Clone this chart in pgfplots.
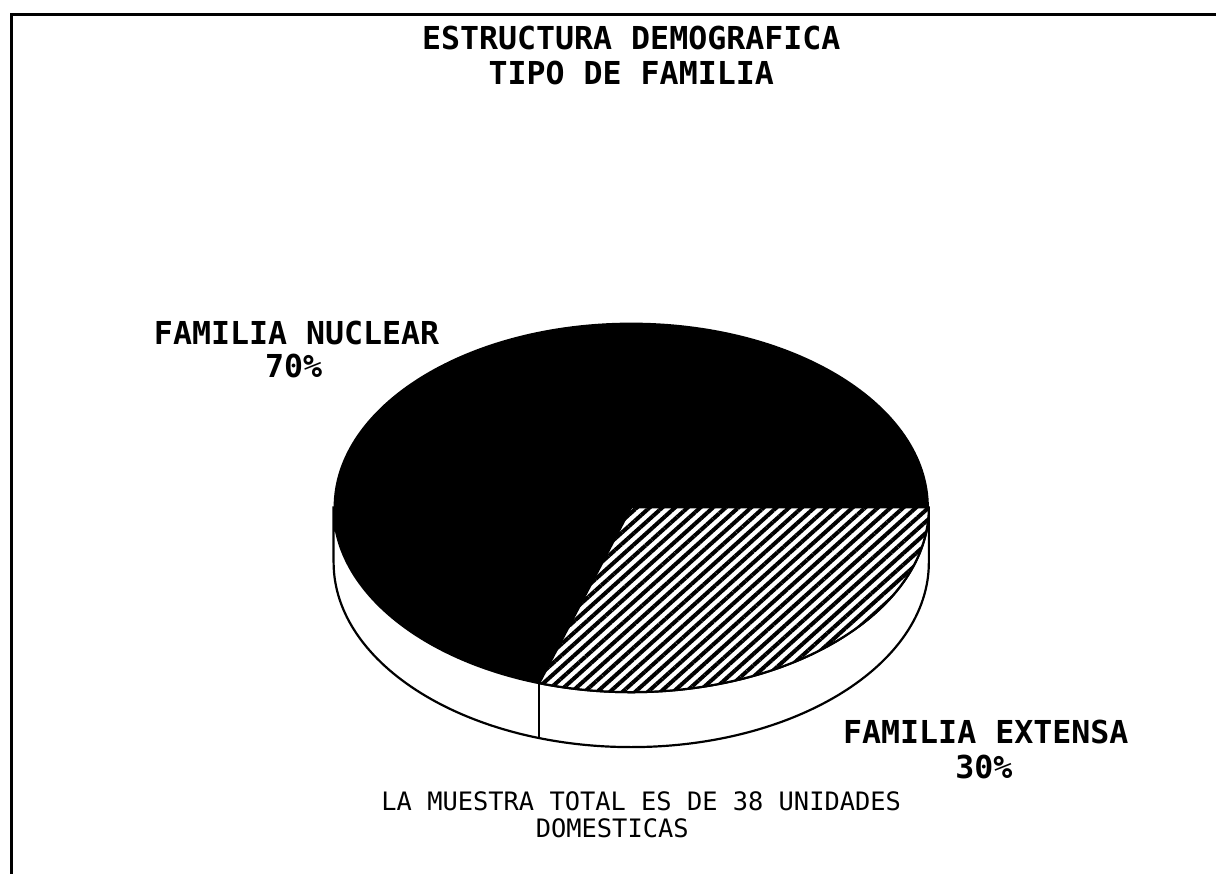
\documentclass[border=0pt]{standalone}
\usepackage{pgfplots}
\pgfplotsset{compat=1.18}
\usepackage{pgfplotstable}
\usepackage{fontspec}
\setmonofont{DejaVu Sans Mono}
\usetikzlibrary{patterns.meta}

% shares of the two family types (percent)
\pgfplotstableread{
label share
nuclear 70
extensa 30
}\pietable

\begin{document}
\begin{tikzpicture}
\pgfplotstablegetelem{0}{share}\of\pietable \let\shareA\pgfplotsretval
\pgfplotstablegetelem{1}{share}\of\pietable \let\shareB\pgfplotsretval
\pgfmathsetmacro\angB{360*\shareB/100}
\pgfmathsetmacro\angA{360-\angB}
\def\rx{29.8mm}
\def\ry{18.5mm}
\begin{axis}[
    scale only axis,
    width=121.7mm, height=87.5mm,
    xmin=0, xmax=1217, ymin=0, ymax=875,
    y dir=reverse,
    hide axis, clip=false,
]
\path (axis cs:0,0) rectangle (axis cs:1217,875);

% frame (left and top edges)
\draw[line width=0.3mm] (axis cs:12,875) -- (axis cs:12,15) -- (axis cs:1217,15);

% side of the pie
\filldraw[fill=white, draw=black, line width=0.22mm]
    (axis cs:334,508) -- (axis cs:334,563)
    arc[start angle=180, end angle=360, x radius=\rx, y radius=\ry]
    -- (axis cs:930,508)
    arc[start angle=0, end angle=-180, x radius=\rx, y radius=\ry] -- cycle;
\draw[line width=0.22mm] (axis cs:632,508) ++(-\angB:29.8mm and 18.5mm) -- ++(0,-5.5mm);

% top face: nuclear (black)
\fill[black] (axis cs:632,508) -- ++(0:29.8mm and 18.5mm)
    arc[start angle=0, end angle=\angA, x radius=\rx, y radius=\ry] -- cycle;
% top face: extensa (hatched)
\fill[white] (axis cs:632,508) -- ++(-\angB:29.8mm and 18.5mm)
    arc[start angle=-\angB, end angle=0, x radius=\rx, y radius=\ry] -- cycle;
\filldraw[pattern={Lines[angle=42, distance=0.85mm, line width=0.4mm]}, draw=black, line width=0.22mm]
    (axis cs:632,508) -- ++(-\angB:29.8mm and 18.5mm)
    arc[start angle=-\angB, end angle=0, x radius=\rx, y radius=\ry] -- cycle;

% titles and labels
\tikzset{bl/.style={inner sep=0pt, font=\fontsize{9pt}{10pt}\selectfont\ttfamily\bfseries}}
\node[bl] at (axis cs:632,38) {ESTRUCTURA DEMOGRAFICA};
\node[bl] at (axis cs:632,73) {TIPO DE FAMILIA};
\node[bl] at (axis cs:297,333) {FAMILIA NUCLEAR};
\node[bl] at (axis cs:294,366) {\shareA\%};
\node[bl] at (axis cs:987,733) {FAMILIA EXTENSA};
\node[bl] at (axis cs:985,768) {\shareB\%};

\tikzset{nt/.style={inner sep=0pt, font=\fontsize{7.23pt}{9pt}\selectfont\ttfamily}}
\node[nt] at (axis cs:642,802) {LA MUESTRA TOTAL ES DE 38 UNIDADES};
\node[nt] at (axis cs:613,829) {DOMESTICAS};
\end{axis}
\end{tikzpicture}
\end{document}
